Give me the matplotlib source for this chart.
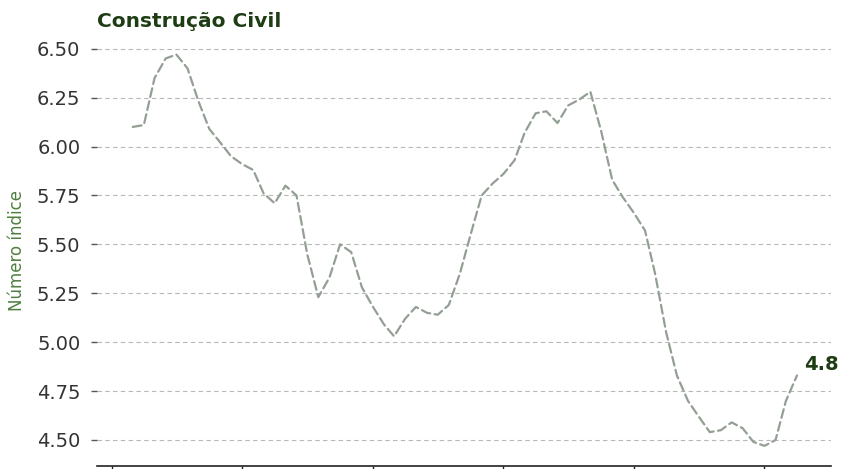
#!/usr/bin/env python3
# -*- coding: utf-8 -*-
"""
Construção Civil - número índice mensal
"""

import matplotlib
matplotlib.use('Agg')
import matplotlib.pyplot as plt
import matplotlib.dates as mdates
import pandas as pd

# dados
meses = pd.date_range('2019-03-01', periods=62, freq='MS')
indice = [
    6.10, 6.11, 6.35, 6.45, 6.47, 6.40, 6.23, 6.09, 6.02, 5.95,
    5.91, 5.88, 5.76, 5.71, 5.80, 5.75, 5.45, 5.23, 5.33, 5.50,
    5.46, 5.28, 5.18, 5.09, 5.03, 5.12, 5.18, 5.15, 5.14, 5.19,
    5.35, 5.55, 5.75, 5.81, 5.86, 5.93, 6.07, 6.17, 6.18, 6.12,
    6.21, 6.24, 6.28, 6.08, 5.83, 5.74, 5.66, 5.57, 5.35, 5.05,
    4.83, 4.70, 4.62, 4.54, 4.55, 4.59, 4.56, 4.49, 4.47, 4.50,
    4.70, 4.83,
]
y_ticks = [4.50, 4.75, 5.00, 5.25, 5.50, 5.75, 6.00, 6.25, 6.50]
titulo = 'Construção Civil'
rotulo_y = 'Número índice'
rotulo_final = '4.8'

fig = plt.figure(figsize=(8.45, 4.69), dpi=100)
ax = fig.add_axes([0.1148, 0.0064, 0.8686, 0.9190])

ax.plot(meses, indice, linestyle=(0, (4, 2)), color='#949f94', linewidth=1.6,
        dash_capstyle='round', solid_joinstyle='round', zorder=3)

# rótulo do último valor
ax.annotate(rotulo_final, xy=(meses[-1], indice[-1]), xytext=(5, 8),
            textcoords='offset points', fontsize=14, fontweight='bold',
            color='#1f3d14', ha='left', va='center')

ax.set_ylim(4.367, 6.57)
ax.set_xlim(meses[0] - pd.Timedelta(days=100), meses[-1] + pd.Timedelta(days=95))
ax.set_yticks(y_ticks)
ax.set_yticklabels([f'{v:.2f}' for v in y_ticks])

ax.xaxis.set_major_locator(mdates.YearLocator())
ax.tick_params(axis='x', labelbottom=False, direction='out', length=4,
               color='#222222', width=1)
ax.tick_params(axis='y', labelsize=14, labelcolor='#333333', length=4,
               color='#555555', width=1, pad=8)

ax.grid(axis='y', linestyle=(0, (4, 3)), color='#b8b8b8', linewidth=0.8)
ax.grid(axis='x', visible=False)

for side in ('top', 'right', 'left'):
    ax.spines[side].set_visible(False)
ax.spines['bottom'].set_color('#222222')
ax.spines['bottom'].set_linewidth(1.2)

ax.set_title(titulo, loc='left', fontsize=14.5, fontweight='bold',
             color='#1f3d14', pad=6)
ax.set_ylabel(rotulo_y, fontsize=12, color='#4f8040', labelpad=8)

plt.savefig('out.png', dpi=100, facecolor='white')
plt.close()
